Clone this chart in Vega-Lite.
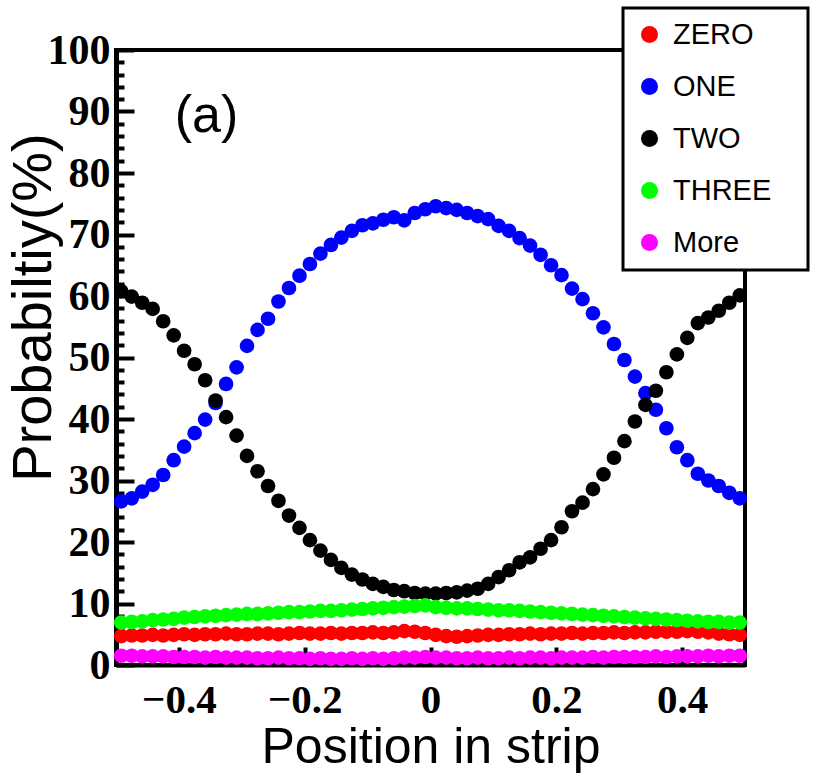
{
  "$schema": "https://vega.github.io/schema/vega-lite/v6.json",
  "width": 629,
  "height": 615,
  "autosize": "none",
  "padding": {"left": 116, "top": 50, "right": 73, "bottom": 110},
  "background": "white",
  "config": {"view": {"stroke": "black", "strokeWidth": 4}, "legend": {"strokeWidth": 3}},
  "datasets": {
    "probs": [
      {"x":-0.4917,"p":4.7,"s":"ZERO"},{"x":-0.475,"p":4.8,"s":"ZERO"},{"x":-0.4583,"p":4.8,"s":"ZERO"},{"x":-0.4417,"p":4.9,"s":"ZERO"},{"x":-0.425,"p":4.8,"s":"ZERO"},{"x":-0.4083,"p":4.9,"s":"ZERO"},{"x":-0.3917,"p":5.0,"s":"ZERO"},{"x":-0.375,"p":4.9,"s":"ZERO"},{"x":-0.3583,"p":5.0,"s":"ZERO"},{"x":-0.3417,"p":5.0,"s":"ZERO"},
      {"x":-0.325,"p":5.1,"s":"ZERO"},{"x":-0.3083,"p":5.0,"s":"ZERO"},{"x":-0.2917,"p":5.0,"s":"ZERO"},{"x":-0.275,"p":5.1,"s":"ZERO"},{"x":-0.2583,"p":5.1,"s":"ZERO"},{"x":-0.2417,"p":5.0,"s":"ZERO"},{"x":-0.225,"p":5.1,"s":"ZERO"},{"x":-0.2083,"p":5.2,"s":"ZERO"},{"x":-0.1917,"p":5.1,"s":"ZERO"},{"x":-0.175,"p":5.1,"s":"ZERO"},
      {"x":-0.1583,"p":5.2,"s":"ZERO"},{"x":-0.1417,"p":5.1,"s":"ZERO"},{"x":-0.125,"p":5.2,"s":"ZERO"},{"x":-0.1083,"p":5.2,"s":"ZERO"},{"x":-0.0917,"p":5.3,"s":"ZERO"},{"x":-0.075,"p":5.2,"s":"ZERO"},{"x":-0.0583,"p":5.3,"s":"ZERO"},{"x":-0.0417,"p":5.5,"s":"ZERO"},{"x":-0.025,"p":5.4,"s":"ZERO"},{"x":-0.0083,"p":5.2,"s":"ZERO"},
      {"x":0.0083,"p":4.9,"s":"ZERO"},{"x":0.025,"p":4.7,"s":"ZERO"},{"x":0.0417,"p":4.6,"s":"ZERO"},{"x":0.0583,"p":4.7,"s":"ZERO"},{"x":0.075,"p":4.8,"s":"ZERO"},{"x":0.0917,"p":4.9,"s":"ZERO"},{"x":0.1083,"p":4.9,"s":"ZERO"},{"x":0.125,"p":5.0,"s":"ZERO"},{"x":0.1417,"p":5.0,"s":"ZERO"},{"x":0.1583,"p":5.1,"s":"ZERO"},
      {"x":0.175,"p":5.0,"s":"ZERO"},{"x":0.1917,"p":5.1,"s":"ZERO"},{"x":0.2083,"p":5.1,"s":"ZERO"},{"x":0.225,"p":5.2,"s":"ZERO"},{"x":0.2417,"p":5.1,"s":"ZERO"},{"x":0.2583,"p":5.2,"s":"ZERO"},{"x":0.275,"p":5.2,"s":"ZERO"},{"x":0.2917,"p":5.3,"s":"ZERO"},{"x":0.3083,"p":5.2,"s":"ZERO"},{"x":0.325,"p":5.3,"s":"ZERO"},
      {"x":0.3417,"p":5.3,"s":"ZERO"},{"x":0.3583,"p":5.4,"s":"ZERO"},{"x":0.375,"p":5.4,"s":"ZERO"},{"x":0.3917,"p":5.4,"s":"ZERO"},{"x":0.4083,"p":5.5,"s":"ZERO"},{"x":0.425,"p":5.4,"s":"ZERO"},{"x":0.4417,"p":5.3,"s":"ZERO"},{"x":0.4583,"p":5.1,"s":"ZERO"},{"x":0.475,"p":5.0,"s":"ZERO"},{"x":0.4917,"p":4.9,"s":"ZERO"},

      {"x":-0.4917,"p":26.6,"s":"ONE"},{"x":-0.475,"p":27.1,"s":"ONE"},{"x":-0.4583,"p":28.2,"s":"ONE"},{"x":-0.4417,"p":29.3,"s":"ONE"},{"x":-0.425,"p":30.9,"s":"ONE"},{"x":-0.4083,"p":33.3,"s":"ONE"},{"x":-0.3917,"p":35.5,"s":"ONE"},{"x":-0.375,"p":37.7,"s":"ONE"},{"x":-0.3583,"p":39.9,"s":"ONE"},{"x":-0.3417,"p":42.6,"s":"ONE"},
      {"x":-0.325,"p":45.7,"s":"ONE"},{"x":-0.3083,"p":48.4,"s":"ONE"},{"x":-0.2917,"p":51.9,"s":"ONE"},{"x":-0.275,"p":54.5,"s":"ONE"},{"x":-0.2583,"p":56.3,"s":"ONE"},{"x":-0.2417,"p":59.1,"s":"ONE"},{"x":-0.225,"p":61.3,"s":"ONE"},{"x":-0.2083,"p":63.3,"s":"ONE"},{"x":-0.1917,"p":65.2,"s":"ONE"},{"x":-0.175,"p":66.9,"s":"ONE"},
      {"x":-0.1583,"p":68.3,"s":"ONE"},{"x":-0.1417,"p":69.5,"s":"ONE"},{"x":-0.125,"p":70.6,"s":"ONE"},{"x":-0.1083,"p":71.5,"s":"ONE"},{"x":-0.0917,"p":71.8,"s":"ONE"},{"x":-0.075,"p":72.4,"s":"ONE"},{"x":-0.0583,"p":72.8,"s":"ONE"},{"x":-0.0417,"p":72.3,"s":"ONE"},{"x":-0.025,"p":73.5,"s":"ONE"},{"x":-0.0083,"p":74.1,"s":"ONE"},
      {"x":0.0083,"p":74.6,"s":"ONE"},{"x":0.025,"p":74.3,"s":"ONE"},{"x":0.0417,"p":74.0,"s":"ONE"},{"x":0.0583,"p":73.5,"s":"ONE"},{"x":0.075,"p":73.0,"s":"ONE"},{"x":0.0917,"p":72.5,"s":"ONE"},{"x":0.1083,"p":71.4,"s":"ONE"},{"x":0.125,"p":70.6,"s":"ONE"},{"x":0.1417,"p":69.4,"s":"ONE"},{"x":0.1583,"p":68.2,"s":"ONE"},
      {"x":0.175,"p":66.7,"s":"ONE"},{"x":0.1917,"p":65.0,"s":"ONE"},{"x":0.2083,"p":63.4,"s":"ONE"},{"x":0.225,"p":61.2,"s":"ONE"},{"x":0.2417,"p":59.5,"s":"ONE"},{"x":0.2583,"p":57.2,"s":"ONE"},{"x":0.275,"p":54.9,"s":"ONE"},{"x":0.2917,"p":52.2,"s":"ONE"},{"x":0.3083,"p":49.6,"s":"ONE"},{"x":0.325,"p":46.9,"s":"ONE"},
      {"x":0.3417,"p":44.2,"s":"ONE"},{"x":0.3583,"p":41.5,"s":"ONE"},{"x":0.375,"p":38.5,"s":"ONE"},{"x":0.3917,"p":35.4,"s":"ONE"},{"x":0.4083,"p":33.3,"s":"ONE"},{"x":0.425,"p":31.1,"s":"ONE"},{"x":0.4417,"p":30.0,"s":"ONE"},{"x":0.4583,"p":29.1,"s":"ONE"},{"x":0.475,"p":28.0,"s":"ONE"},{"x":0.4917,"p":27.1,"s":"ONE"},

      {"x":-0.4917,"p":60.8,"s":"TWO"},{"x":-0.475,"p":59.9,"s":"TWO"},{"x":-0.4583,"p":58.9,"s":"TWO"},{"x":-0.4417,"p":57.9,"s":"TWO"},{"x":-0.425,"p":55.9,"s":"TWO"},{"x":-0.4083,"p":53.6,"s":"TWO"},{"x":-0.3917,"p":51.1,"s":"TWO"},{"x":-0.375,"p":48.9,"s":"TWO"},{"x":-0.3583,"p":46.3,"s":"TWO"},{"x":-0.3417,"p":43.0,"s":"TWO"},
      {"x":-0.325,"p":40.3,"s":"TWO"},{"x":-0.3083,"p":37.3,"s":"TWO"},{"x":-0.2917,"p":34.0,"s":"TWO"},{"x":-0.275,"p":31.5,"s":"TWO"},{"x":-0.2583,"p":29.1,"s":"TWO"},{"x":-0.2417,"p":26.7,"s":"TWO"},{"x":-0.225,"p":24.3,"s":"TWO"},{"x":-0.2083,"p":22.3,"s":"TWO"},{"x":-0.1917,"p":20.3,"s":"TWO"},{"x":-0.175,"p":18.6,"s":"TWO"},
      {"x":-0.1583,"p":17.1,"s":"TWO"},{"x":-0.1417,"p":15.8,"s":"TWO"},{"x":-0.125,"p":14.7,"s":"TWO"},{"x":-0.1083,"p":13.9,"s":"TWO"},{"x":-0.0917,"p":13.2,"s":"TWO"},{"x":-0.075,"p":12.7,"s":"TWO"},{"x":-0.0583,"p":12.2,"s":"TWO"},{"x":-0.0417,"p":12.0,"s":"TWO"},{"x":-0.025,"p":11.7,"s":"TWO"},{"x":-0.0083,"p":11.6,"s":"TWO"},
      {"x":0.0083,"p":11.6,"s":"TWO"},{"x":0.025,"p":11.7,"s":"TWO"},{"x":0.0417,"p":11.8,"s":"TWO"},{"x":0.0583,"p":12.1,"s":"TWO"},{"x":0.075,"p":12.4,"s":"TWO"},{"x":0.0917,"p":13.2,"s":"TWO"},{"x":0.1083,"p":14.3,"s":"TWO"},{"x":0.125,"p":15.4,"s":"TWO"},{"x":0.1417,"p":16.7,"s":"TWO"},{"x":0.1583,"p":17.5,"s":"TWO"},
      {"x":0.175,"p":18.9,"s":"TWO"},{"x":0.1917,"p":20.3,"s":"TWO"},{"x":0.2083,"p":22.4,"s":"TWO"},{"x":0.225,"p":25.0,"s":"TWO"},{"x":0.2417,"p":26.4,"s":"TWO"},{"x":0.2583,"p":28.6,"s":"TWO"},{"x":0.275,"p":31.0,"s":"TWO"},{"x":0.2917,"p":33.7,"s":"TWO"},{"x":0.3083,"p":36.4,"s":"TWO"},{"x":0.325,"p":39.6,"s":"TWO"},
      {"x":0.3417,"p":42.3,"s":"TWO"},{"x":0.3583,"p":44.6,"s":"TWO"},{"x":0.375,"p":47.6,"s":"TWO"},{"x":0.3917,"p":50.5,"s":"TWO"},{"x":0.4083,"p":53.2,"s":"TWO"},{"x":0.425,"p":55.6,"s":"TWO"},{"x":0.4417,"p":56.5,"s":"TWO"},{"x":0.4583,"p":57.6,"s":"TWO"},{"x":0.475,"p":58.9,"s":"TWO"},{"x":0.4917,"p":60.1,"s":"TWO"},

      {"x":-0.4917,"p":6.9,"s":"THREE"},{"x":-0.475,"p":7.0,"s":"THREE"},{"x":-0.4583,"p":7.1,"s":"THREE"},{"x":-0.4417,"p":7.3,"s":"THREE"},{"x":-0.425,"p":7.4,"s":"THREE"},{"x":-0.4083,"p":7.5,"s":"THREE"},{"x":-0.3917,"p":7.7,"s":"THREE"},{"x":-0.375,"p":7.8,"s":"THREE"},{"x":-0.3583,"p":7.9,"s":"THREE"},{"x":-0.3417,"p":8.0,"s":"THREE"},
      {"x":-0.325,"p":8.1,"s":"THREE"},{"x":-0.3083,"p":8.2,"s":"THREE"},{"x":-0.2917,"p":8.3,"s":"THREE"},{"x":-0.275,"p":8.3,"s":"THREE"},{"x":-0.2583,"p":8.4,"s":"THREE"},{"x":-0.2417,"p":8.5,"s":"THREE"},{"x":-0.225,"p":8.6,"s":"THREE"},{"x":-0.2083,"p":8.6,"s":"THREE"},{"x":-0.1917,"p":8.7,"s":"THREE"},{"x":-0.175,"p":8.8,"s":"THREE"},
      {"x":-0.1583,"p":8.8,"s":"THREE"},{"x":-0.1417,"p":8.9,"s":"THREE"},{"x":-0.125,"p":9.0,"s":"THREE"},{"x":-0.1083,"p":9.1,"s":"THREE"},{"x":-0.0917,"p":9.2,"s":"THREE"},{"x":-0.075,"p":9.3,"s":"THREE"},{"x":-0.0583,"p":9.4,"s":"THREE"},{"x":-0.0417,"p":9.5,"s":"THREE"},{"x":-0.025,"p":9.6,"s":"THREE"},{"x":-0.0083,"p":9.7,"s":"THREE"},
      {"x":0.0083,"p":9.4,"s":"THREE"},{"x":0.025,"p":9.3,"s":"THREE"},{"x":0.0417,"p":9.2,"s":"THREE"},{"x":0.0583,"p":9.2,"s":"THREE"},{"x":0.075,"p":9.1,"s":"THREE"},{"x":0.0917,"p":9.0,"s":"THREE"},{"x":0.1083,"p":8.9,"s":"THREE"},{"x":0.125,"p":8.9,"s":"THREE"},{"x":0.1417,"p":8.8,"s":"THREE"},{"x":0.1583,"p":8.7,"s":"THREE"},
      {"x":0.175,"p":8.6,"s":"THREE"},{"x":0.1917,"p":8.5,"s":"THREE"},{"x":0.2083,"p":8.4,"s":"THREE"},{"x":0.225,"p":8.3,"s":"THREE"},{"x":0.2417,"p":8.2,"s":"THREE"},{"x":0.2583,"p":8.1,"s":"THREE"},{"x":0.275,"p":8.0,"s":"THREE"},{"x":0.2917,"p":7.9,"s":"THREE"},{"x":0.3083,"p":7.8,"s":"THREE"},{"x":0.325,"p":7.7,"s":"THREE"},
      {"x":0.3417,"p":7.6,"s":"THREE"},{"x":0.3583,"p":7.5,"s":"THREE"},{"x":0.375,"p":7.4,"s":"THREE"},{"x":0.3917,"p":7.3,"s":"THREE"},{"x":0.4083,"p":7.2,"s":"THREE"},{"x":0.425,"p":7.1,"s":"THREE"},{"x":0.4417,"p":7.0,"s":"THREE"},{"x":0.4583,"p":7.0,"s":"THREE"},{"x":0.475,"p":6.9,"s":"THREE"},{"x":0.4917,"p":6.9,"s":"THREE"},

      {"x":-0.4917,"p":1.5,"s":"More"},{"x":-0.475,"p":1.5,"s":"More"},{"x":-0.4583,"p":1.4,"s":"More"},{"x":-0.4417,"p":1.4,"s":"More"},{"x":-0.425,"p":1.4,"s":"More"},{"x":-0.4083,"p":1.3,"s":"More"},{"x":-0.3917,"p":1.3,"s":"More"},{"x":-0.375,"p":1.3,"s":"More"},{"x":-0.3583,"p":1.2,"s":"More"},{"x":-0.3417,"p":1.3,"s":"More"},
      {"x":-0.325,"p":1.2,"s":"More"},{"x":-0.3083,"p":1.2,"s":"More"},{"x":-0.2917,"p":1.2,"s":"More"},{"x":-0.275,"p":1.1,"s":"More"},{"x":-0.2583,"p":1.1,"s":"More"},{"x":-0.2417,"p":1.2,"s":"More"},{"x":-0.225,"p":1.1,"s":"More"},{"x":-0.2083,"p":1.1,"s":"More"},{"x":-0.1917,"p":1.0,"s":"More"},{"x":-0.175,"p":1.1,"s":"More"},
      {"x":-0.1583,"p":1.0,"s":"More"},{"x":-0.1417,"p":1.0,"s":"More"},{"x":-0.125,"p":1.1,"s":"More"},{"x":-0.1083,"p":1.0,"s":"More"},{"x":-0.0917,"p":1.1,"s":"More"},{"x":-0.075,"p":1.0,"s":"More"},{"x":-0.0583,"p":1.1,"s":"More"},{"x":-0.0417,"p":1.2,"s":"More"},{"x":-0.025,"p":1.2,"s":"More"},{"x":-0.0083,"p":1.3,"s":"More"},
      {"x":0.0083,"p":1.2,"s":"More"},{"x":0.025,"p":1.2,"s":"More"},{"x":0.0417,"p":1.1,"s":"More"},{"x":0.0583,"p":1.1,"s":"More"},{"x":0.075,"p":1.2,"s":"More"},{"x":0.0917,"p":1.1,"s":"More"},{"x":0.1083,"p":1.1,"s":"More"},{"x":0.125,"p":1.2,"s":"More"},{"x":0.1417,"p":1.1,"s":"More"},{"x":0.1583,"p":1.2,"s":"More"},
      {"x":0.175,"p":1.2,"s":"More"},{"x":0.1917,"p":1.1,"s":"More"},{"x":0.2083,"p":1.2,"s":"More"},{"x":0.225,"p":1.2,"s":"More"},{"x":0.2417,"p":1.2,"s":"More"},{"x":0.2583,"p":1.3,"s":"More"},{"x":0.275,"p":1.2,"s":"More"},{"x":0.2917,"p":1.3,"s":"More"},{"x":0.3083,"p":1.3,"s":"More"},{"x":0.325,"p":1.3,"s":"More"},
      {"x":0.3417,"p":1.3,"s":"More"},{"x":0.3583,"p":1.4,"s":"More"},{"x":0.375,"p":1.3,"s":"More"},{"x":0.3917,"p":1.4,"s":"More"},{"x":0.4083,"p":1.4,"s":"More"},{"x":0.425,"p":1.4,"s":"More"},{"x":0.4417,"p":1.5,"s":"More"},{"x":0.4583,"p":1.4,"s":"More"},{"x":0.475,"p":1.5,"s":"More"},{"x":0.4917,"p":1.5,"s":"More"}
    ],
    "panel": [{"x": -0.356, "p": 89.2, "label": "(a)"}]
  },
  "layer": [
    {
      "data": {"name": "probs"},
      "mark": {"type": "circle", "size": 215, "opacity": 1},
      "encoding": {
        "x": {
          "field": "x", "type": "quantitative",
          "scale": {"domain": [-0.5, 0.5], "nice": false},
          "axis": {
            "values": [-0.4, -0.2, 0, 0.2, 0.4], "format": "~g", "grid": false,
            "tickSize": -18, "tickWidth": 4, "tickColor": "black",
            "domainColor": "black", "domainWidth": 4, "labelFlush": false,
            "labelFont": "Liberation Serif", "labelFontWeight": "bold", "labelFontSize": 41,
            "labelColor": "black", "labelPadding": 33,
            "title": "Position in strip", "titleFont": "Liberation Sans", "titleFontWeight": "normal",
            "titleFontSize": 50, "titleColor": "black", "titlePadding": 2
          }
        },
        "y": {
          "field": "p", "type": "quantitative",
          "scale": {"domain": [0, 100], "nice": false},
          "axis": {
            "orient": "left", "values": [0, 10, 20, 30, 40, 50, 60, 70, 80, 90, 100], "grid": false,
            "tickSize": -18, "tickWidth": 4, "tickColor": "black",
            "domainColor": "black", "domainWidth": 5,
            "labelFont": "Liberation Serif", "labelFontWeight": "bold", "labelFontSize": 42,
            "labelColor": "black", "labelPadding": 24,
            "title": "Probabiltiy(%)", "titleFont": "Liberation Sans", "titleFontWeight": "normal",
            "titleFontSize": 56, "titleColor": "black",
            "titleX": -83, "titleY": 257, "titleBaseline": "middle", "titleAlign": "center"
          }
        },
        "color": {
          "field": "s", "type": "nominal",
          "scale": {"domain": ["ZERO", "ONE", "TWO", "THREE", "More"], "range": ["#ff0000", "#0000ff", "#000000", "#00ff00", "#ff00ff"]},
          "legend": {
            "title": null, "orient": "none", "legendX": 507, "legendY": -42, "direction": "vertical",
            "fillColor": "white", "strokeColor": "black", "padding": 12,
            "symbolType": "circle", "symbolSize": 290, "symbolStrokeWidth": 0, "symbolOffset": 0,
            "labelFont": "Liberation Sans", "labelFontSize": 29, "labelColor": "black",
            "labelOffset": 9, "rowPadding": 22, "labelExpr": "datum.label + '\u00a0\u00a0\u00a0\u200b'",
            "encode": {"legend": {"update": {"strokeWidth": {"value": 3}}}}
          }
        }
      }
    },
    {
      "data": {"name": "panel"},
      "mark": {"type": "text", "font": "Liberation Sans", "fontSize": 52, "color": "black", "baseline": "middle", "align": "center"},
      "encoding": {
        "x": {"field": "x", "type": "quantitative"},
        "y": {
          "field": "p", "type": "quantitative",
          "axis": {
            "orient": "left", "values": [2, 4, 6, 8, 12, 14, 16, 18, 22, 24, 26, 28, 32, 34, 36, 38, 42, 44, 46, 48, 52, 54, 56, 58, 62, 64, 66, 68, 72, 74, 76, 78, 82, 84, 86, 88, 92, 94, 96, 98],
            "grid": false, "labels": false, "domain": false, "title": null,
            "tickSize": -8, "tickWidth": 4, "tickColor": "black"
          }
        },
        "text": {"field": "label"}
      }
    }
  ],
  "resolve": {"axis": {"y": "independent"}}
}
